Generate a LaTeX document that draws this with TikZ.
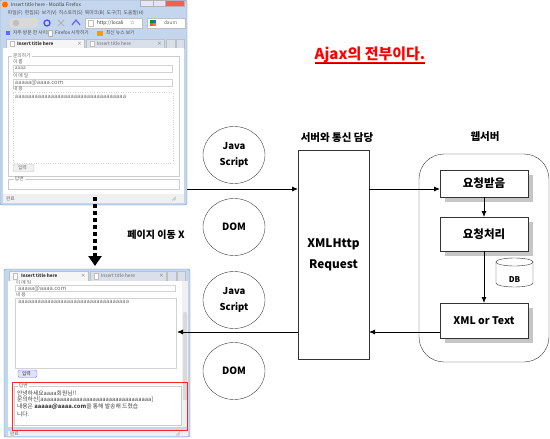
\documentclass[tikz,border=0pt]{standalone}
\usepackage{fontspec}
\setmainfont{Noto Sans CJK KR}
\usetikzlibrary{shapes.geometric,arrows.meta,shadows}

\definecolor{frameblue}{HTML}{C4D6EE}
\definecolor{framedark}{HTML}{7089AE}
\definecolor{tabgray}{HTML}{D9E0EA}
\definecolor{shot}{HTML}{6A6A6A}

\begin{document}
\begin{tikzpicture}[x=1pt,y=-1pt,
  every node/.style={inner sep=0pt, outer sep=0pt},
  tiny/.style={anchor=west, text=shot, font=\fontsize{4.8}{5}\selectfont},
  tinyb/.style={anchor=west, text=shot, font=\bfseries\fontsize{4.6}{5}\selectfont},
  shottext/.style={anchor=west, text=shot, font=\fontsize{5.8}{6}\selectfont},
  field/.style={draw=gray!35, fill=white},
  ell/.style={ellipse, draw=black!75, thin, minimum width=62pt, minimum height=57pt, align=center, font=\bfseries\fontsize{9.5}{16}\selectfont},
  proc/.style={draw=black!80, fill=white, minimum width=88pt, font=\bfseries\fontsize{11.5}{14}\selectfont,
    drop shadow={shadow xshift=5pt, shadow yshift=-5pt, fill=gray!45, opacity=1}},
  arr/.style={thick, -{Latex[length=6pt,width=5pt]}},
  lbl/.style={font=\bfseries\fontsize{10.5}{12}\selectfont},
  grip/.style={gray!60, line width=0.6}
]
\useasboundingbox (0,0) rectangle (550,439);

% ================= top browser =================
\node[draw=framedark, fill=frameblue, rounded corners=2pt, minimum width=187pt, minimum height=205pt, anchor=north west] (b1) at (0,0) {};
\fill[orange!85!red] (5,4.5) circle (3);
\node[tiny, text=gray!50!black] (b1title) at (11,4.5) {Insert title here - Mozilla Firefox};
\draw[gray!60, fill=white!90!blue] (140,0.5) rectangle (153,6.5);
\draw[gray!60, fill=white!90!blue] (153,0.5) rectangle (165,6.5);
\draw[gray!60, fill=red!65] (165,0.5) rectangle (184,6.5);
\node[tiny, text=black!70] (b1menu) at (8,13) {파일(F)\ \ 편집(E)\ \ 보기(V)\ \ 히스토리(S)\ \ 북마크(B)\ \ 도구(T)\ \ 도움말(H)};
% nav bar
\fill[gray!30, rounded corners=3.5pt] (9,18) rectangle (38,28);
\fill[gray!50] (16,23) circle (3.2);
\draw[blue!70, line width=1.3] (47,23) circle (3);
\draw[gray!60, line width=1] (58,20) -- (64,26) (58,26) -- (64,20);
\draw[blue!60, line width=1.2] (72,25) -- (76,20) -- (80,25);
\draw[gray!50, fill=white] (85,18) rectangle (142,28);
\node[tiny, text=black!80] (b1url) at (97,23) {http://locali};
\draw[gray!50] (88,20) rectangle (93,26);
\node[tiny] (b1star) at (130,23) {☆};
\draw[gray!50, fill=white] (147,18) rectangle (185,28);
\fill[green!60!black] (150,20) rectangle (153,23); \fill[blue!70] (153,20) rectangle (156,23);
\fill[red!70] (150,23) rectangle (153,26); \fill[orange] (153,23) rectangle (156,26);
\node[tiny] (b1daum) at (164,23) {daum};
% bookmarks
\fill[blue!60] (6,31) rectangle (10,35);
\node[tiny, text=black!70] (b1bm1) at (13,33) {자주 방문 한 사이트};
\draw[gray!60, fill=white] (48,30) rectangle (52,36);
\node[tiny, text=black!70] (b1bm2) at (55,33) {Firefox 시작하기};
\fill[orange!80!yellow] (97,31) rectangle (103,36);
\node[tiny, text=black!70] (b1bm3) at (106,33) {최신 뉴스 보기};
% tabs
\draw[gray!50, fill=gray!8] (6,39) rectangle (84,48);
\draw[gray!50, fill=white] (10,41) rectangle (14,46);
\node[tinyb, text=black!80] (b1tab1) at (17,43.5) {Insert title here};
\node[tiny] (b1x1) at (77,43.5) {×};
\draw[gray!50, fill=tabgray] (86,39) rectangle (164,48);
\draw[gray!50, fill=white] (90,41) rectangle (94,46);
\node[tiny] (b1tab2) at (97,43.5) {Insert title here};
\node[tiny] (b1x2) at (157,43.5) {×};
\draw[gray!50, fill=tabgray] (166,39) rectangle (175,48);
\draw[gray!50, fill=tabgray] (176,39) rectangle (184,48);
% content
\fill[white] (3,48) rectangle (184,194);
\draw[gray!40] (8,56) rectangle (179,176);
\node[tiny, fill=white, inner xsep=1pt] (b1leg1) at (12,56) {문의하기};
\node[tiny] (b1l1) at (13,62) {이 름};
\draw[field] (13,65) rectangle (172,72);
\node[tiny] (b1v1) at (15,68.5) {aaaa};
\node[tiny] (b1l2) at (13,75.5) {이 메 일};
\draw[field] (13,79) rectangle (172,86);
\node[shottext] (b1v2) at (15,82.5) {aaaaa@aaaa.com};
\node[tiny] (b1l3) at (13,89) {내 용};
\draw[field, dotted] (13,92.5) rectangle (173,163);
\node[shottext] (b1v3) at (15,97) {aaaaaaaaaaaaaaaaaaaaaaaaaaaaaaaaaa};
\draw[gray!50, fill=gray!12, rounded corners=1pt] (13,164.5) rectangle (34,171.5);
\node[tiny] (b1btn) at (18,168) {입력};
\draw[gray!40] (8,179) rectangle (179,189);
\node[tiny, fill=white, inner xsep=1pt] (b1leg2) at (14,179) {답변};
% status bar
\fill[gray!12] (3,194) rectangle (184,203);
\node[tiny] (b1done) at (6,198.5) {완료};
\draw[grip] (172,200.5) -- (176,196.5) (174,200.5) -- (176,198.5);

% ================= bottom browser =================
\node[draw=framedark, fill=frameblue, rounded corners=2pt, minimum width=186pt, minimum height=168pt, anchor=north west] (b2) at (4,269) {};
\draw[gray!50, fill=gray!8] (9,271) rectangle (88,281);
\draw[gray!50, fill=white] (13,273) rectangle (17,279);
\node[tinyb, text=black!80] (b2tab1) at (21,276) {Insert title here};
\node[tiny] (b2x1) at (81,276) {×};
\draw[gray!50, fill=tabgray] (90,271) rectangle (166,281);
\draw[gray!50, fill=white] (94,273) rectangle (98,279);
\node[tiny] (b2tab2) at (101,276) {Insert title here};
\node[tiny] (b2x2) at (159,276) {×};
\draw[gray!50, fill=tabgray] (167,271) rectangle (176,281);
\draw[gray!50, fill=tabgray] (177,271) rectangle (185,281);
% content
\fill[white] (8,281) rectangle (182,427);
\fill[gray!12] (182,281) rectangle (188,427);
\fill[gray!30, rounded corners=1pt] (183,312) rectangle (187,400);
\node[tiny] (b2l2) at (16,283) {\raisebox{1.5pt}{이 메 일}};
\fill[white] (8,284) rectangle (182,285);
\draw[field] (15,285) rectangle (175,291.5);
\node[shottext] (b2v2) at (18,288.5) {aaaaa@aaaa.com};
\node[tiny] (b2l3) at (16,295) {내 용};
\draw[field] (15,298) rectangle (176,368);
\node[shottext] (b2v3) at (18,302) {aaaaaaaaaaaaaaaaaaaaaaaaaaaaaaaaaa};
\draw[blue!50, fill=blue!12, rounded corners=1.5pt] (18,370) rectangle (37,377.5);
\node[tiny, text=black!80] (b2btn) at (22,374) {입력};
\draw[gray!40] (14,386) rectangle (181,425);
\node[tiny, fill=white, inner xsep=1pt] (b2leg) at (18,386) {답변};
\node[shottext, text=black!75] (b2t1) at (17,393) {안녕하세요aaaa회원님!!};
\node[shottext, text=black!75] (b2t2) at (17,400) {문의하신[aaaaaaaaaaaaaaaaaaaaaaaaaaaaaaaaaa]};
\node[shottext, text=black!75] (b2t3) at (17,407) {내용은 \textbf{aaaaa@aaaa.com}을 통해 발송해 드렸습};
\node[shottext, text=black!75] (b2t4) at (17,414) {니다.};
\draw[red!85, thick] (12,382) rectangle (187,430);
\fill[gray!12] (8,430.5) rectangle (188,436);
\node[tiny] (b2done) at (10,433.5) {완료};
\draw[grip] (176,435.5) -- (180,431.5) (178,435.5) -- (180,433.5);

% ================= title =================
\node[text=red, font=\bfseries\fontsize{15}{18}\selectfont] (title) at (370,55) {Ajax의 전부이다.};
\draw[black!80, line width=1.6] ([yshift=-4pt]title.base west) -- ([yshift=-4pt]title.base east);
\draw[red, line width=0.9] ([yshift=-3pt]title.base west) -- ([yshift=-3pt]title.base east);

% ================= client side =================
\node[ell] (js1) at (234,155) {Java\\Script};
\node[ell, font=\bfseries\fontsize{10}{12}\selectfont] (dom1) at (234,227) {DOM};
\node[ell] (js2) at (234,300) {Java\\Script};
\node[ell, font=\bfseries\fontsize{10}{12}\selectfont] (dom2) at (234,371) {DOM};

\node[lbl] (lxhr) at (337,138) {서버와 통신 담당};
\node[draw=black!80, minimum width=71pt, minimum height=209pt, align=center, font=\bfseries\fontsize{11.8}{21}\selectfont] (xhr) at (333.5,254.5) {XMLHttp\\Request};

% ================= server =================
\node[lbl] (lsrv) at (485,137) {웹서버};
\node[draw=black!80, rounded corners=25pt, minimum width=130pt, minimum height=208pt] (srv) at (484,258) {};
\node[proc, minimum height=27pt] (req) at (484,183.5) {요청받음};
\node[proc, minimum height=34pt] (proc) at (484,234) {요청처리};
\node[proc, minimum height=35pt, font=\bfseries\fontsize{10.5}{13}\selectfont] (xml) at (484,320.5) {XML or Text};
\draw[black!80, fill=white] (496,262) -- (496,283) arc[start angle=180, end angle=0, x radius=18.5, y radius=4] -- (533,262);
\draw[black!80, fill=white] (514.5,262) ellipse[x radius=18.5, y radius=4];
\node[font=\bfseries\fontsize{8}{9}\selectfont] (db) at (514.5,280) {DB};

% ================= connectors =================
\coordinate (b1out) at (187,189);
\coordinate (b2in) at (177,332);
\coordinate (ret) at (0,332);
\draw[arr] (b1out) -- (b1out -| xhr.west);
\draw[arr] (xhr.east |- b1out) -- (b1out -| req.west);
\draw[arr] (req.south) -- (proc.north);
\draw[arr] (proc.south) -- (xml.north);
\draw[arr] (xml.west |- ret) -- (xhr.east |- ret);
\draw[arr] (xhr.west |- ret) -- (b2in);

\coordinate (d1) at (95,197);
\coordinate (d2) at (95,266);
\draw[line width=3.2, dash pattern=on 3.5pt off 3.5pt, -{Triangle[width=13pt,length=10pt]}] (d1) -- (d2);
\node[font=\bfseries\fontsize{10}{12}\selectfont] (move) at (156,235) {페이지 이동 X};
\end{tikzpicture}
\end{document}
